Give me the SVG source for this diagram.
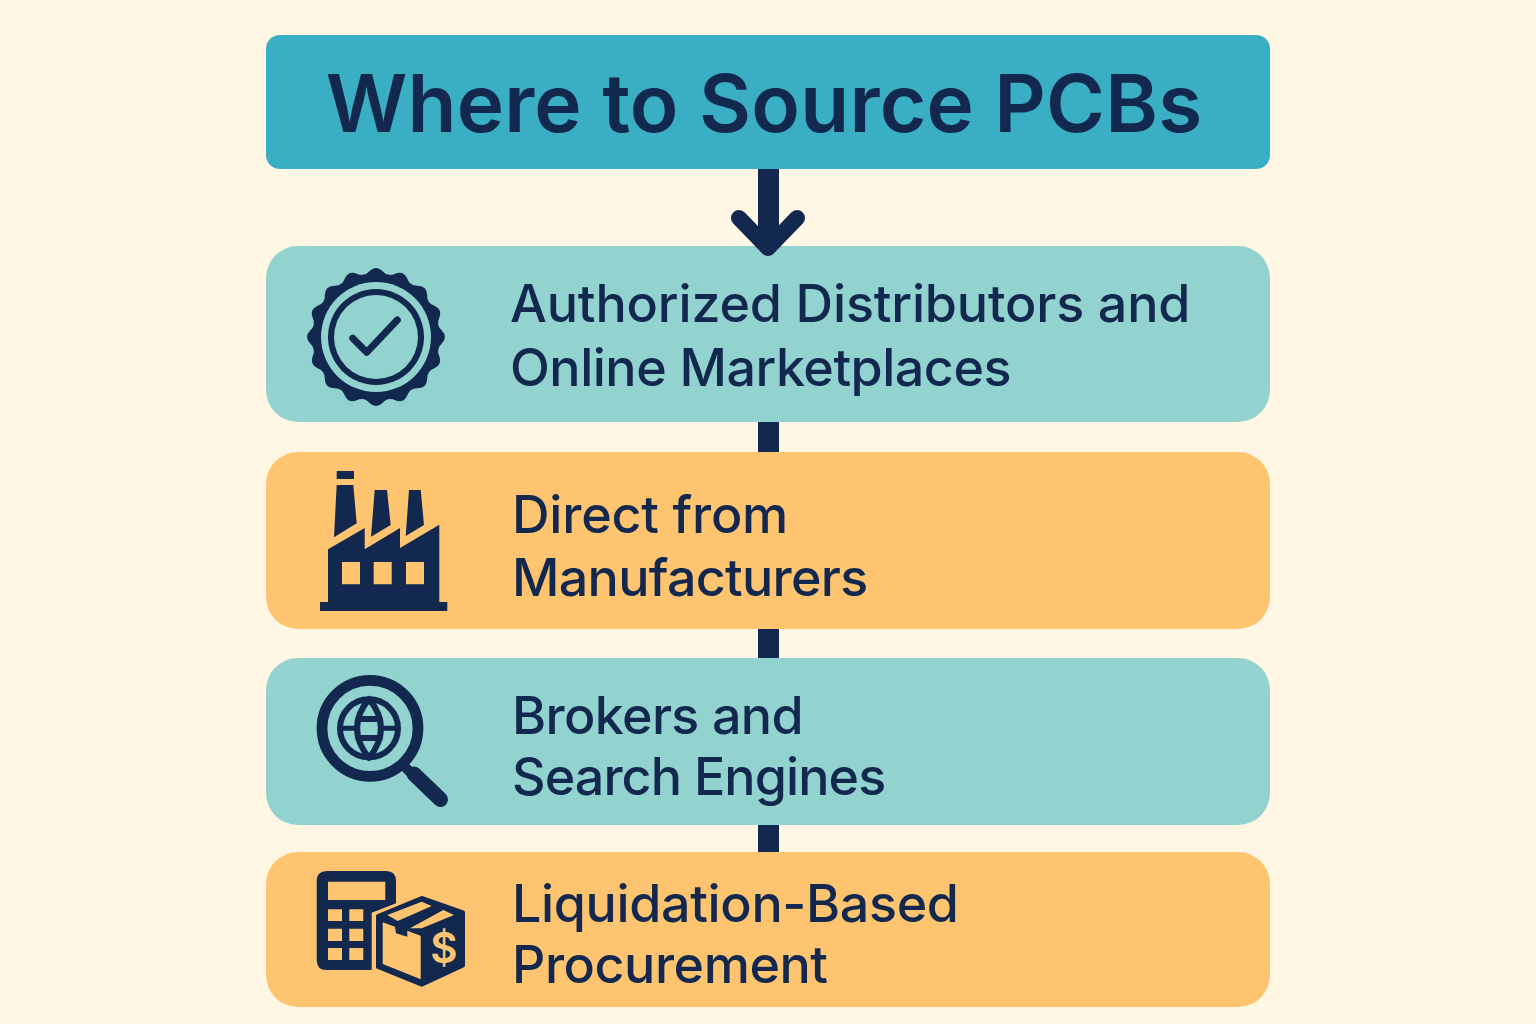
<svg xmlns="http://www.w3.org/2000/svg" width="1536" height="1024" viewBox="0 0 1536 1024">
<style>
.d{fill:#12284f}
.t{fill:#92d3cf}
.o{fill:#ffc470}
.ln{fill:none;stroke:#12284f;stroke-linecap:round;stroke-linejoin:round}
text{font-family:"Inter","Liberation Sans",sans-serif;fill:#12284f;font-weight:500;font-size:52px}
#title text{font-size:80px;font-weight:600;letter-spacing:.2px}
</style>
<rect width="1536" height="1024" fill="#fff7e4"/>
<g id="title"><rect x="266" y="35" width="1004" height="134" rx="14" fill="#3aaec3"/><text x="764" y="132" text-anchor="middle">Where to Source PCBs</text></g>
<g id="n1"><rect x="266" y="246" width="1004" height="176" rx="32" class="t"/>
<g transform="translate(376 337)"><path class="d" d="M65.88-6.49Q72 0 65.88 6.49Q59.8 11.9 63.35 19.22Q66.5 27.6 58.38 31.2Q50.7 33.9 51.17 41.99Q50.9 50.9 41.99 51.17Q33.9 50.7 31.2 58.38Q27.6 66.5 19.22 63.35Q11.9 59.8 6.49 65.88Q0 72-6.49 65.88Q-11.9 59.8-19.22 63.35Q-27.6 66.5-31.2 58.38Q-33.9 50.7-41.99 51.17Q-50.9 50.9-51.17 41.99Q-50.7 33.9-58.38 31.2Q-66.5 27.6-63.35 19.22Q-59.8 11.9-65.88 6.49Q-72 0-65.88-6.49Q-59.8-11.9-63.35-19.22Q-66.5-27.6-58.38-31.2Q-50.7-33.9-51.17-41.99Q-50.9-50.9-41.99-51.17Q-33.9-50.7-31.2-58.38Q-27.6-66.5-19.22-63.35Q-11.9-59.8-6.49-65.88Q0-72 6.49-65.88Q11.9-59.8 19.22-63.35Q27.6-66.5 31.2-58.38Q33.9-50.7 41.99-51.17Q50.9-50.9 51.17-41.99Q50.7-33.9 58.38-31.2Q66.5-27.6 63.35-19.22Q59.8-11.9 65.88-6.49Z"/><circle r="55" class="t"/><circle r="48" class="d"/><circle r="42" class="t"/></g>
<path class="ln" stroke-width="7" d="M352.700 338.300L366.700 352.300L397.300 320"/>
<text x="510" y="322" letter-spacing="-.15">Authorized Distributors and</text><text x="510" y="386" letter-spacing="-.5">Online Marketplaces</text></g>
<g id="n2"><rect x="266" y="452" width="1004" height="177" rx="32" class="o"/>
<path class="d" d="M336.700 471H354V479H336.700ZM336.700 485H353.300L356.700 523.300L334 537.300ZM374.700 490H387L390.700 525L371 536.700ZM409 490H420.700L424 525L405.700 536ZM328 549.300L364.700 528V549.300L400 528V548L439.300 524.700V602H447.300V611H320V602H328Z"/>
<path class="o" d="M342 562H360V584.300H342ZM373.700 562H391.700V584.300H373.700ZM406 562H424V584.300H406Z"/>
<text x="512" y="533" letter-spacing="-.2">Direct from</text><text x="512" y="596" letter-spacing="-.7">Manufacturers</text></g>
<g id="n3"><rect x="266" y="658" width="1004" height="167" rx="32" class="t"/>
<circle cx="370" cy="728.300" r="48" fill="none" stroke="#12284f" stroke-width="10.700"/>
<circle cx="369" cy="728.300" r="29" fill="none" stroke="#12284f" stroke-width="6"/>
<path class="ln" stroke-width="6" d="M369 699Q345 728 369 758Q393 728 369 699ZM358 719H380M358 738H380"/>
<path fill="none" stroke="#12284f" stroke-width="5" d="M340 728.300H358M380 728.300H398"/>
<path fill="none" stroke="#12284f" stroke-width="10" d="M405 767L416 778"/>
<path class="ln" stroke-width="15" d="M414 774L440.500 799.500"/>
<text x="512" y="734" letter-spacing="-.65">Brokers and</text><text x="512" y="795" letter-spacing="-.93">Search Engines</text></g>
<g id="n4"><rect x="266" y="852" width="1004" height="155" rx="32" class="o"/>
<path class="d" d="M326.700 871H386Q396 871 396 881V903.300L371.700 912.700V970H326.700Q316.700 970 316.700 960V881Q316.700 871 326.700 871Z"/>
<path class="o" d="M328 881.700H385.300V900H328ZM328 909.300H342V921H328ZM349.300 909.300H363.300V921H349.300ZM328 928.700H342V941H328ZM349.300 928.700H363.300V941H349.300ZM328 948H342V960H328ZM349.300 948H363.300V960H349.300Z"/>
<path class="d" stroke="#12284f" stroke-width="4" stroke-linejoin="round" d="M421.700 898L463 912.500V965.500L421.700 984.700L378 967V916Z"/>
<path class="o" d="M387.300 915L421.700 901.700L431.700 906L397.700 921ZM410 928.300L443.300 910L454 915L421.700 928.300ZM382.700 922.300L395 926.700L396 933.300L407.300 936.700V930.700L420.700 935.700V979.300L382.700 964Z"/>
<text x="444" y="963" text-anchor="middle" style="font-size:42px;font-weight:600;fill:#ffc470">$</text>
<text x="512" y="922" letter-spacing="-.35">Liquidation-Based</text><text x="512" y="983" letter-spacing="-.45">Procurement</text></g>
<g id="connectors">
<path class="d" d="M758 169H779V240H758ZM758 422H779V452H758ZM758 629H779V658H758ZM758 825H779V852H758Z"/>
<path class="ln" stroke-width="16" d="M739 218L768 248L797 218"/>
</g>
</svg>
